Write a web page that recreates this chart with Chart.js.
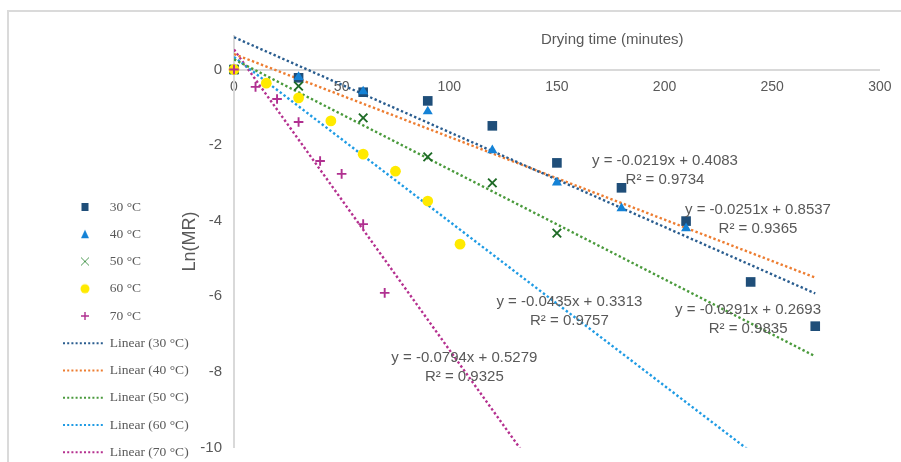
<!DOCTYPE html>
<html><head><meta charset="utf-8">
<script src="https://cdn.jsdelivr.net/npm/chart.js@4.4.1/dist/chart.umd.min.js"></script>
<style>
html,body{margin:0;padding:0;background:#fff;overflow:hidden;}
#wrap{position:relative;width:901px;height:462px;overflow:hidden;background:#fff;}
#frame{position:absolute;left:7px;top:10px;width:1000px;height:1000px;border-top:2px solid #dadada;border-left:2px solid #dadada;}
canvas{position:absolute;left:0;top:0;}
</style></head><body>
<div id="wrap"><div id="frame"></div><canvas id="c" width="901" height="462"></canvas></div>
<script>
// ---- data ----
const seriesLabels = ['30 °C', '40 °C', '50 °C', '60 °C', '70 °C'];
const time30 = [0, 30, 60, 90, 120, 150, 180, 210, 240, 270];
const lnmr30 = [0, -0.22, -0.60, -0.83, -1.49, -2.47, -3.13, -4.01, -5.62, -6.79];
const time40 = [0, 30, 60, 90, 120, 150, 180, 210];
const lnmr40 = [0, -0.20, -0.58, -1.11, -2.14, -2.99, -3.67, -4.20];
const time50 = [0, 30, 60, 90, 120, 150];
const lnmr50 = [0, -0.44, -1.28, -2.31, -3.00, -4.33];
const time60 = [0, 15, 30, 45, 60, 75, 90, 105];
const lnmr60 = [0, -0.36, -0.75, -1.36, -2.24, -2.69, -3.48, -4.62];
const time70 = [0, 10, 20, 30, 40, 50, 60, 70];
const lnmr70 = [0, -0.46, -0.78, -1.39, -2.42, -2.76, -4.09, -5.91];
const slopes = [-0.0251, -0.0219, -0.0291, -0.0435, -0.0794];
const intercepts = [0.8537, 0.4083, 0.2693, 0.3313, 0.5279];
const rSquared = ['0.9365', '0.9734', '0.9835', '0.9757', '0.9325'];
const trendFrom = 0, trendTo = 270;
const xTicks = [0, 50, 100, 150, 200, 250, 300];
const yTicks = [-10, -8, -6, -4, -2, 0];
// equation label anchors, in data units (time, Ln(MR))
const eqAnchorT = [243.4, 200.2, 238.8, 155.8, 107.0];
const eqAnchorV = [-3.72, -2.42, -6.36, -6.15, -7.63];
const xTitle = 'Drying time (minutes)';
const yTitle = 'Ln(MR)';
const xTitleAt = [175.7, 0.78];

// ---- styles ----
const times = [time30, time40, time50, time60, time70];
const values = [lnmr30, lnmr40, lnmr50, lnmr60, lnmr70];
const markerStyles = ['rect', 'triangle', 'crossRot', 'circle', 'cross'];
const markerRadius = [6.8, 5.8, 6, 5.4, 4.8];
const markerColors = ['#1f4e79', '#1482d6', '#1e6b26', '#ffea00', '#b03090'];
const trendColors = ['#2a5d8f', '#ed7d31', '#4a9a3c', '#1f9be4', '#b5308f'];
const textGray = '#595959';
const axisGray = '#d9d9d9';

function makeSymbol(kind, color) {
  const c = document.createElement('canvas');
  c.width = 40; c.height = 14;
  const g = c.getContext('2d');
  const cx = 22, cy = 7;
  g.fillStyle = color; g.strokeStyle = color;
  if (kind === 'rect') { g.fillRect(cx - 3.5, cy - 4, 7, 8); }
  else if (kind === 'triangle') { g.beginPath(); g.moveTo(cx, cy - 4.5); g.lineTo(cx + 4, cy + 4); g.lineTo(cx - 4, cy + 4); g.closePath(); g.fill(); }
  else if (kind === 'crossRot') { g.lineWidth = 1; g.beginPath(); g.moveTo(cx - 4, cy - 4); g.lineTo(cx + 4, cy + 4); g.moveTo(cx + 4, cy - 4); g.lineTo(cx - 4, cy + 4); g.stroke(); }
  else if (kind === 'circle') { g.beginPath(); g.arc(cx, cy, 4.5, 0, Math.PI * 2); g.fill(); }
  else if (kind === 'cross') { g.lineWidth = 1.4; g.beginPath(); g.moveTo(cx - 4, cy); g.lineTo(cx + 4, cy); g.moveTo(cx, cy - 4); g.lineTo(cx, cy + 4); g.stroke(); }
  else { g.lineWidth = 2; g.setLineDash([2, 2.2]); g.beginPath(); g.moveTo(0, cy); g.lineTo(40, cy); g.stroke(); }
  return c;
}

const datasets = [];
seriesLabels.forEach((lab, i) => {
  datasets.push({
    label: lab,
    data: times[i].map((t, k) => ({x: t, y: values[i][k]})),
    pointStyle: markerStyles[i],
    pointRadius: markerRadius[i],
    pointHoverRadius: markerRadius[i],
    pointBackgroundColor: markerColors[i],
    pointBorderColor: markerColors[i],
    pointBorderWidth: (markerStyles[i] === 'cross' || markerStyles[i] === 'crossRot') ? 1.9 : 0,
    showLine: false,
    clip: false,
    order: 4 - i
  });
});
seriesLabels.forEach((lab, i) => {
  datasets.push({
    label: 'Linear (' + lab + ')',
    data: [trendFrom, trendTo].map(t => ({x: t, y: slopes[i] * t + intercepts[i]})),
    showLine: true,
    borderColor: trendColors[i],
    backgroundColor: trendColors[i],
    borderWidth: 2.4,
    borderDash: [2.4, 2.4],
    pointRadius: 0,
    pointHoverRadius: 0,
    fill: false,
    order: 5 + i
  });
});
const legendSymbols = markerStyles.map((s, i) => makeSymbol(s, markerColors[i]))
  .concat(trendColors.map(c => makeSymbol('dots', c)));
legendSymbols[2] = makeSymbol('crossRot', '#4f9a55');

const labelsPlugin = {
  id: 'trendLabels',
  afterDatasetsDraw(chart) {
    const {ctx} = chart;
    const xs = chart.scales.x, ys = chart.scales.y;
    ctx.save();
    ctx.fillStyle = textGray;
    ctx.textAlign = 'center';
    ctx.textBaseline = 'middle';
    ctx.font = '15px "Liberation Sans", Arial, sans-serif';
    slopes.forEach((m, i) => {
      const px = xs.getPixelForValue(eqAnchorT[i]);
      const py = ys.getPixelForValue(eqAnchorV[i]);
      ctx.fillText('y = ' + m.toFixed(4) + 'x + ' + intercepts[i].toFixed(4), px, py);
      ctx.fillText('R² = ' + rSquared[i], px, py + 19);
    });
    ctx.fillText(xTitle, xs.getPixelForValue(xTitleAt[0]), ys.getPixelForValue(xTitleAt[1]));
    ctx.restore();
  }
};
// the reference legend sits lower than the plot area allows; move its box down
const legendShift = {
  id: 'legendShift',
  afterLayout(chart) {
    const lg = chart.legend;
    if (lg) { lg.top += 151; lg.bottom += 151; }
  }
};

Chart.defaults.font.family = '"Liberation Sans", Arial, sans-serif';
new Chart(document.getElementById('c'), {
  type: 'scatter',
  data: {datasets},
  options: {
    responsive: false,
    animation: false,
    events: [],
    layout: {padding: {left: 49.25, right: 18, top: 35.5, bottom: 14.5}},
    scales: {
      x: {
        type: 'linear', min: 0, max: 300,
        position: {y: 0},
        afterBuildTicks: s => { s.ticks = xTicks.map(v => ({value: v})); },
        ticks: {stepSize: 50, padding: 9.5, color: textGray, font: {size: 14}, maxRotation: 0, autoSkip: false},
        grid: {display: false, drawTicks: false},
        border: {display: true, color: axisGray, width: 2}
      },
      y: {
        type: 'linear', min: -10, max: 0.9, bounds: 'data',
        afterBuildTicks: s => { s.ticks = yTicks.map(v => ({value: v})); },
        afterFit: s => { s.width = 44.75; s.paddingTop = 0; s.paddingBottom = 0; },
        ticks: {stepSize: 2, padding: 12, color: textGray, font: {size: 15}, includeBounds: false},
        grid: {display: false, drawTicks: false},
        border: {display: true, color: axisGray, width: 2},
        title: {display: true, text: yTitle, color: textGray, font: {size: 18}, padding: {top: -10.4, bottom: 0}}
      }
    },
    plugins: {
      tooltip: {enabled: false},
      legend: {
        position: 'left',
        align: 'start',
        maxWidth: 140,
        labels: {
          usePointStyle: true,
          pointStyleWidth: 40,
          padding: 13.75,
          color: textGray,
          font: {family: '"Liberation Serif", "Times New Roman", serif', size: 13.5},
          sort: (a, b) => a.datasetIndex - b.datasetIndex,
          generateLabels(chart) {
            const items = Chart.defaults.plugins.legend.labels.generateLabels(chart);
            items.forEach(it => { it.pointStyle = legendSymbols[it.datasetIndex]; it.hidden = false; });
            return items;
          }
        }
      }
    }
  },
  plugins: [labelsPlugin, legendShift]
});
</script></body></html>
